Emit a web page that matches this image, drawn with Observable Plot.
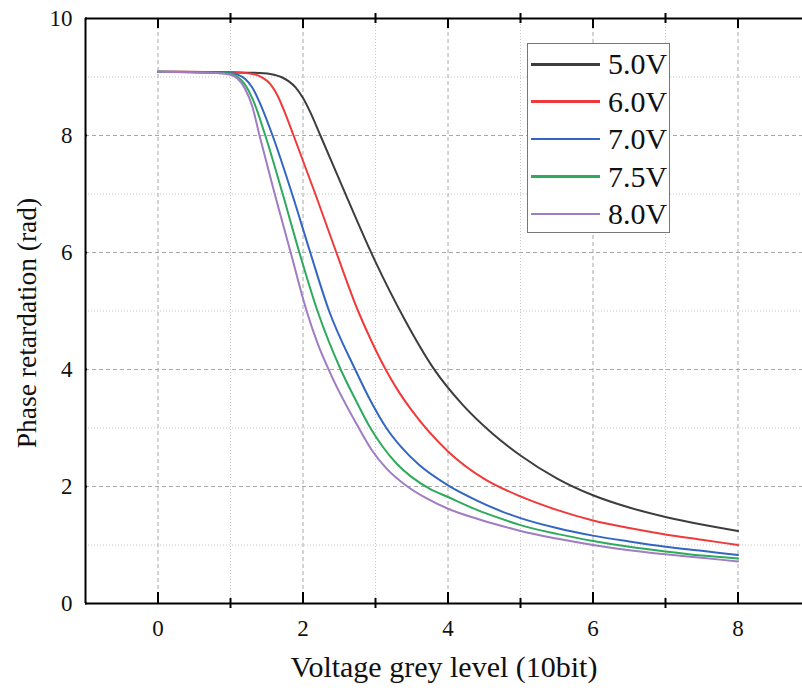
<!DOCTYPE html>
<html>
<head>
<meta charset="utf-8">
<script src="https://cdn.jsdelivr.net/npm/d3@7"></script>
<script src="https://cdn.jsdelivr.net/npm/@observablehq/plot@0.6"></script>
<style>
  body { margin: 0; background: #fff; }
  #wrap { position: relative; width: 802px; height: 692px; overflow: hidden; }
  #wrap svg { overflow: hidden; }
  #legend {
    position: absolute; left: 527px; top: 43px; width: 141px; height: 188px;
    border: 1px solid #777; background: #fff; box-sizing: content-box;
    font-family: "Liberation Serif", "Times New Roman", serif; font-size: 30px; color: #111;
  }
  .row { position: absolute; left: 3px; height: 30px; display: flex; align-items: center; }
  .swatch { width: 69px; height: 2.6px; margin-right: 8px; }
</style>
</head>
<body>
<div id="wrap"></div>
<script>
// ---- data ----
const series = ["5.0V", "6.0V", "7.0V", "7.5V", "8.0V"];

const x50 = [0, 1, 1.4, 1.6, 1.7, 1.8, 1.9, 2.0, 2.1, 2.24, 2.6, 3.0, 3.4, 3.8, 4.2, 4.6, 5.0, 5.5, 6.0, 6.5, 7.0, 7.5, 8.0];
const y50 = [9.09, 9.08, 9.07, 9.04, 9.0, 8.93, 8.82, 8.64, 8.4, 8.0, 6.96, 5.84, 4.86, 4.02, 3.4, 2.92, 2.53, 2.14, 1.85, 1.64, 1.48, 1.35, 1.24];

const x60 = [0, 1, 1.2, 1.35, 1.45, 1.55, 1.65, 1.75, 1.87, 2.17, 2.46, 2.76, 2.95, 3.14, 3.3, 3.5, 4.0, 4.5, 5.0, 5.5, 6.0, 6.5, 7.0, 7.5, 8.0];
const y60 = [9.09, 9.08, 9.07, 9.04, 8.98, 8.88, 8.68, 8.39, 8.0, 7.0, 6.0, 5.0, 4.47, 4.0, 3.66, 3.3, 2.6, 2.13, 1.83, 1.6, 1.42, 1.29, 1.18, 1.09, 1.0];

const x70 = [0, 1, 1.1, 1.2, 1.3, 1.4, 1.58, 1.85, 2.1, 2.36, 2.72, 2.93, 3.15, 3.35, 3.6, 4.0, 4.4, 4.73, 5.0, 5.5, 6.0, 6.5, 7.0, 7.5, 8.0];
const y70 = [9.09, 9.07, 9.04, 8.97, 8.82, 8.57, 8.0, 7.0, 6.0, 5.0, 4.0, 3.47, 3.0, 2.68, 2.37, 2.02, 1.76, 1.58, 1.46, 1.29, 1.16, 1.06, 0.97, 0.9, 0.83];

const x75 = [0, 1, 1.1, 1.2, 1.3, 1.48, 1.72, 1.95, 2.2, 2.52, 2.73, 2.93, 3.1, 3.3, 3.5, 3.75, 4.0, 4.4, 4.73, 5.0, 5.5, 6.0, 6.5, 7.0, 7.5, 8.0];
const y75 = [9.09, 9.06, 9.0, 8.87, 8.64, 8.0, 7.0, 6.0, 5.0, 4.0, 3.47, 3.0, 2.68, 2.38, 2.16, 1.96, 1.82, 1.6, 1.45, 1.34, 1.19, 1.07, 0.97, 0.89, 0.82, 0.77];

const x80 = [0, 0.8, 1.0, 1.1, 1.2, 1.3, 1.4, 1.61, 1.83, 2.05, 2.2, 2.39, 2.77, 2.95, 3.15, 3.44, 3.7, 4.0, 4.4, 4.73, 5.0, 5.5, 6.0, 6.5, 7.0, 7.5, 8.0];
const y80 = [9.09, 9.07, 9.04, 8.97, 8.8, 8.5, 8.0, 7.0, 6.0, 5.0, 4.45, 3.9, 3.0, 2.62, 2.31, 2.0, 1.8, 1.62, 1.45, 1.33, 1.24, 1.11, 1.0, 0.91, 0.84, 0.78, 0.72];

const xMajorTicks = [0, 2, 4, 6, 8];
const xMinorTicks = [1, 3, 5, 7];
const yMajorTicks = [0, 2, 4, 6, 8, 10];
const yMinorTicks = [1, 3, 5, 7, 9];
const yGridMajor = [2, 4, 6, 8];
const xDomain = [-1, 9];
const yDomain = [0, 10];
const xTitle = "Voltage grey level (10bit)";
const yTitle = "Phase retardation (rad)";

// ---- styles ----
const colors = ["#3d3d3d", "#f03a3a", "#3366c2", "#2eaa5c", "#a07cc2"];
const font = "'Liberation Serif', 'Times New Roman', serif";

const xsAll = [x50, x60, x70, x75, x80];
const ysAll = [y50, y60, y70, y75, y80];
const rows = [];
series.forEach((s, i) => xsAll[i].forEach((x, j) => rows.push({ s, x, y: ysAll[i][j] })));

const W = 802, H = 692, mL = 85, mT = 18, mB = 89;
const frameH = H - mT - mB;
const xRange = [85, 810];
const frameW = xRange[1] - xRange[0];

const chart = Plot.plot({
  width: W, height: H,
  marginLeft: mL, marginRight: 0, marginTop: mT, marginBottom: mB,
  x: { domain: xDomain, range: xRange, axis: null },
  y: { domain: yDomain, axis: null },
  color: { domain: series, range: colors },
  style: { fontFamily: font, background: "#fff" },
  marks: [
    // grid
    Plot.ruleX(xMinorTicks, { x: d => d, stroke: "#c8c8c8", strokeDasharray: "1,2" }),
    Plot.ruleY(yMinorTicks, { y: d => d, stroke: "#c8c8c8", strokeDasharray: "1,2" }),
    Plot.ruleX(xMajorTicks, { x: d => d, stroke: "#a8a8a8", strokeDasharray: "4,3" }),
    Plot.ruleY(yGridMajor, { y: d => d, stroke: "#a8a8a8", strokeDasharray: "4,3" }),
    // curves
    Plot.line(rows, { x: "x", y: "y", z: "s", stroke: "s", strokeWidth: 2, curve: "monotone-x" }),
    // axis lines
    Plot.ruleY(yDomain, { y: d => d, stroke: "#000", strokeWidth: 2 }),
    Plot.ruleX([xDomain[0]], { x: d => d, stroke: "#000", strokeWidth: 2 }),
    // bottom ticks
    Plot.tickX(xMajorTicks, { x: d => d, insetTop: frameH - 11, stroke: "#000", strokeWidth: 2 }),
    Plot.tickX(xMinorTicks, { x: d => d, insetTop: frameH - 5, insetBottom: -5, stroke: "#000", strokeWidth: 2 }),
    // top ticks
    Plot.tickX(xMajorTicks, { x: d => d, insetBottom: frameH - 10, stroke: "#000", strokeWidth: 2 }),
    Plot.tickX(xMinorTicks, { x: d => d, insetBottom: frameH - 5, insetTop: -5, stroke: "#000", strokeWidth: 2 }),
    // left ticks
    Plot.tickY(yMajorTicks, { y: d => d, insetRight: frameW - 10, stroke: "#000", strokeWidth: 2 }),
    Plot.tickY(yMinorTicks, { y: d => d, insetRight: frameW - 4, insetLeft: -4, stroke: "#000", strokeWidth: 2 }),
    // tick labels
    Plot.text(xMajorTicks, { x: d => d, text: d => String(d), frameAnchor: "bottom", dy: 25, lineAnchor: "middle", fontSize: 23, fontFamily: font, fill: "#111" }),
    Plot.text(yMajorTicks, { y: d => d, text: d => String(d), frameAnchor: "left", dx: -13, textAnchor: "end", lineAnchor: "middle", fontSize: 23, fontFamily: font, fill: "#111" }),
    // titles
    Plot.text([xTitle], { text: d => d, frameAnchor: "bottom", dy: 64, textAnchor: "middle", lineAnchor: "middle", fontSize: 30, fontFamily: font, fill: "#111" }),
    Plot.text([yTitle], { text: d => d, frameAnchor: "left", dx: -58, dy: 12, rotate: -90, textAnchor: "middle", lineAnchor: "middle", fontSize: 27.5, fontFamily: font, fill: "#111" })
  ]
});

const wrap = document.getElementById("wrap");
wrap.appendChild(chart);

// legend (HTML overlay)
const legend = document.createElement("div");
legend.id = "legend";
const rowTop0 = 5.3, rowStep = 37.4;
series.forEach((s, i) => {
  const r = document.createElement("div");
  r.className = "row";
  r.style.top = (rowTop0 + i * rowStep) + "px";
  const sw = document.createElement("span");
  sw.className = "swatch";
  sw.style.background = colors[i];
  const t = document.createElement("span");
  t.textContent = s;
  r.appendChild(sw); r.appendChild(t);
  legend.appendChild(r);
});
wrap.appendChild(legend);
</script>
</body>
</html>
